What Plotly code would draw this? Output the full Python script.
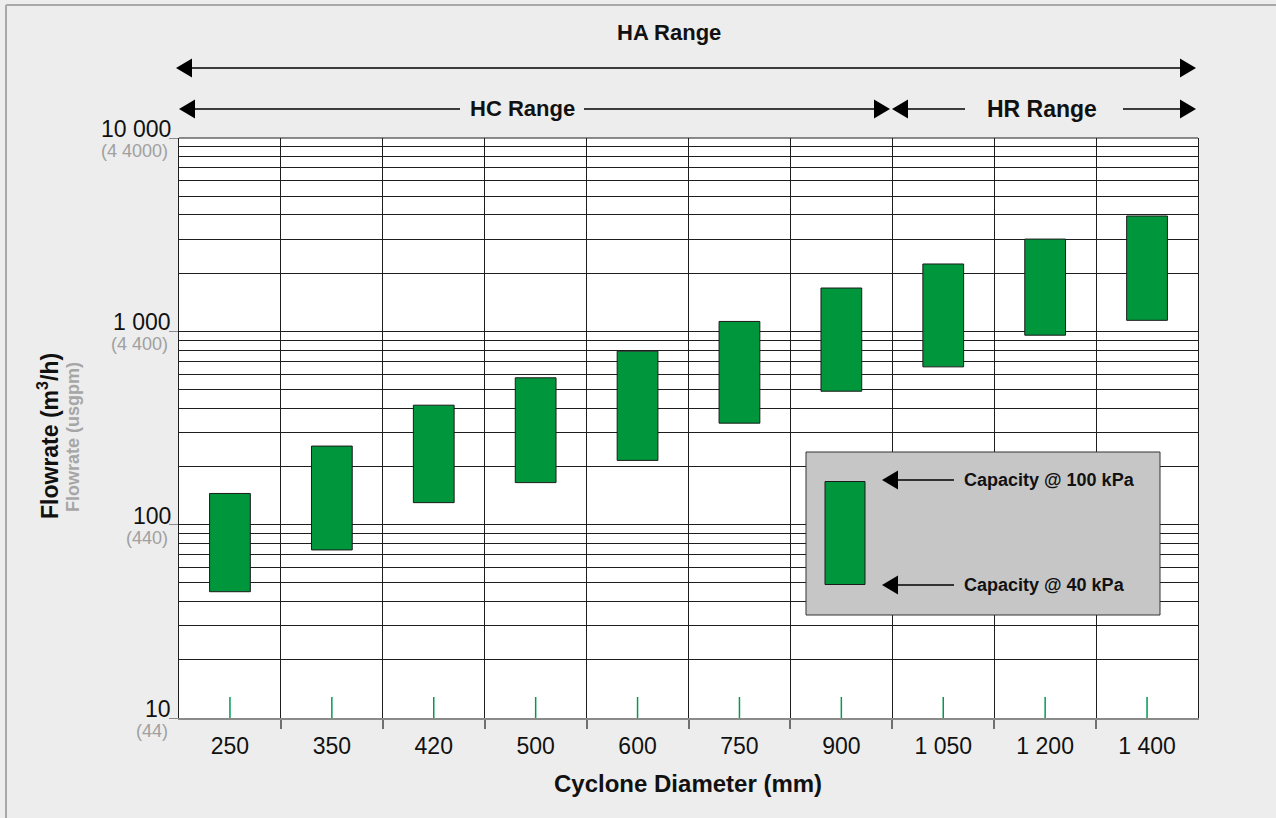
import math
import plotly.graph_objects as go

# ---------------- data ----------------
diameters = ["250", "350", "420", "500", "600", "750", "900", "1 050", "1 200", "1 400"]
cap_40kpa = [45, 74, 130, 165, 215, 335, 490, 655, 955, 1140]      # bottom of bars (m3/h)
cap_100kpa = [145, 255, 415, 575, 790, 1125, 1675, 2230, 3000, 3950]  # top of bars (m3/h)
y_decades = [10, 100, 1000, 10000]
y_decade_labels = ["10", "100", "1 000", "10 000"]
y_usgpm_labels = ["(44)", "(440)", "(4 400)", "(4 4000)"]
range_names = ["HA Range", "HC Range", "HR Range"]

# ---------------- geometry helpers (pixel -> paper) ----------------
W, H = 1276, 818
L, R, T, B = 179, 1198, 138, 718


def px(x):
    return (x - L) / (R - L)


def py(y):
    return (B - y) / (B - T)


FONT = "Liberation Sans, Arial, Helvetica, sans-serif"
GREEN = "#00963b"
GRID = "#1e1e1e"

idx = list(range(len(diameters)))
heights = [h - l for h, l in zip(cap_100kpa, cap_40kpa)]

fig = go.Figure()
fig.add_trace(go.Bar(
    x=idx, y=heights, base=cap_40kpa, width=0.4,
    marker=dict(color=GREEN, line=dict(color="#1b1b1b", width=1)),
    hoverinfo="skip",
))

minor_y = [k * 10 ** d for d in range(1, 4) for k in range(2, 10)]

fig.update_layout(
    width=W, height=H,
    margin=dict(l=L, r=W - R, t=T, b=H - B, pad=0),
    paper_bgcolor="#ededed", plot_bgcolor="white",
    showlegend=False,
    font=dict(family=FONT, color="#111111"),
    xaxis=dict(
        range=[-0.5, len(diameters) - 0.5],
        tickmode="array", tickvals=idx, ticktext=diameters,
        ticks="", 
        tickfont=dict(size=23, color="#111111", family=FONT),
        showgrid=False, zeroline=False,
        showline=True, linecolor="#8a8a8a", linewidth=2,
        ticklabelstandoff=6,
        minor=dict(tickmode="array", tickvals=[i + 0.5 for i in idx[:-1]],
                   ticks="outside", ticklen=9, tickwidth=2, tickcolor="#707070",
                   showgrid=True, gridcolor=GRID, gridwidth=1.2),
        fixedrange=True,
    ),
    yaxis=dict(
        type="log", range=[1, 4],
        tickmode="array", tickvals=y_decades, showticklabels=False,
        ticks="outside", ticklen=9, tickwidth=1, tickcolor="#8a8a8a",
        showgrid=True, gridcolor=GRID, gridwidth=1.2,
        showline=True, linecolor=GRID, linewidth=1, mirror=True,
        zeroline=False,
        minor=dict(tickmode="array", tickvals=minor_y, ticks="",
                   showgrid=True, gridcolor=GRID, gridwidth=1.2),
        fixedrange=True,
    ),
)

shapes = []
annotations = []

# top border of plot
shapes.append(dict(type="line", xref="paper", yref="paper", x0=0, x1=1, y0=1, y1=1,
                   line=dict(color=GRID, width=1.2)))
# outer frame of the figure (left & top edge visible)
shapes.append(dict(type="line", xref="paper", yref="paper", x0=px(6), x1=px(6), y0=py(5), y1=py(830),
                   line=dict(color="#a8a8a8", width=2)))
shapes.append(dict(type="line", xref="paper", yref="paper", x0=px(6), x1=px(1290), y0=py(5), y1=py(5),
                   line=dict(color="#a8a8a8", width=2)))

# green inside tick marks at each category centre
for i in idx:
    shapes.append(dict(type="line", xref="x", yref="paper", x0=i, x1=i,
                       y0=0, y1=py(697), line=dict(color="#009a55", width=1.5)))


def hline(x0, x1, y, color="black", width=1.3):
    shapes.append(dict(type="line", xref="paper", yref="paper",
                       x0=px(x0), x1=px(x1), y0=py(y), y1=py(y),
                       line=dict(color=color, width=width)))


def head(x_tip, y, direction, length=16, half=9.5):
    xb = x_tip + length if direction == "left" else x_tip - length
    path = "M {} {} L {} {} L {} {} Z".format(
        px(x_tip), py(y), px(xb), py(y - half), px(xb), py(y + half))
    shapes.append(dict(type="path", xref="paper", yref="paper", path=path,
                       fillcolor="black", line=dict(color="black", width=0)))


def text(x, y, s, size, color="#111111", xanchor="center", angle=0, bold=True):
    annotations.append(dict(
        xref="paper", yref="paper", x=px(x), y=py(y),
        text=("<b>%s</b>" % s) if bold else s, showarrow=False,
        xanchor=xanchor, yanchor="middle", textangle=angle,
        font=dict(size=size, color=color, family=FONT)))


# ---- range arrows ----
# HA range
hline(190, 1182, 68)
head(176, 68, "left")
head(1196, 68, "right")
text(669, 33, range_names[0], 22)
# HC range
hline(190, 460, 109)
hline(584, 876, 109)
head(179, 109, "left")
head(890, 109, "right")
text(522, 109, range_names[1], 22)
# HR range
hline(906, 965, 109)
hline(1123, 1182, 109)
head(892, 109, "left")
head(1196, 109, "right")
text(1042, 109, range_names[2], 23)

# ---- y tick labels ----
for v, lab, sub in zip(y_decades, y_decade_labels, y_usgpm_labels):
    annotations.append(dict(xref="paper", yref="y", x=0, y=math.log10(v), text=lab,
                            showarrow=False, xanchor="right", yanchor="middle",
                            xshift=-6, yshift=9,
                            font=dict(size=23, color="#111111", family=FONT)))
    annotations.append(dict(xref="paper", yref="y", x=0, y=math.log10(v), text=sub,
                            showarrow=False, xanchor="right", yanchor="middle",
                            xshift=-9, yshift=-13,
                            font=dict(size=18, color="#a0a0a0", family=FONT)))

# ---- axis titles ----
text(48, 436, "Flowrate (m<sup>3</sup>/h)", 23, angle=-90)
text(73, 437, "Flowrate (usgpm)", 18, color="#a6a6a6", angle=-90)
text(688, 783, "Cyclone Diameter (mm)", 24)

# ---- legend box ----
shapes.append(dict(type="rect", xref="paper", yref="paper",
                   x0=px(806), x1=px(1160), y0=py(615), y1=py(452),
                   fillcolor="#c6c6c6", line=dict(color="#333333", width=1)))
shapes.append(dict(type="rect", xref="paper", yref="paper",
                   x0=px(825), x1=px(865), y0=py(584.5), y1=py(481.5),
                   fillcolor=GREEN, line=dict(color="#1b1b1b", width=1)))
for yy, lab in [(480, "Capacity @ 100 kPa"), (585, "Capacity @ 40 kPa")]:
    hline(895, 954, yy, width=1.3)
    head(882, yy, "left")
    text(962, yy, lab, 18, xanchor="left")

fig.update_layout(shapes=shapes, annotations=annotations)

fig.write_html("out.html", config={"displayModeBar": False},
               post_script="document.body.style.margin='0';document.body.style.overflow='hidden';")
